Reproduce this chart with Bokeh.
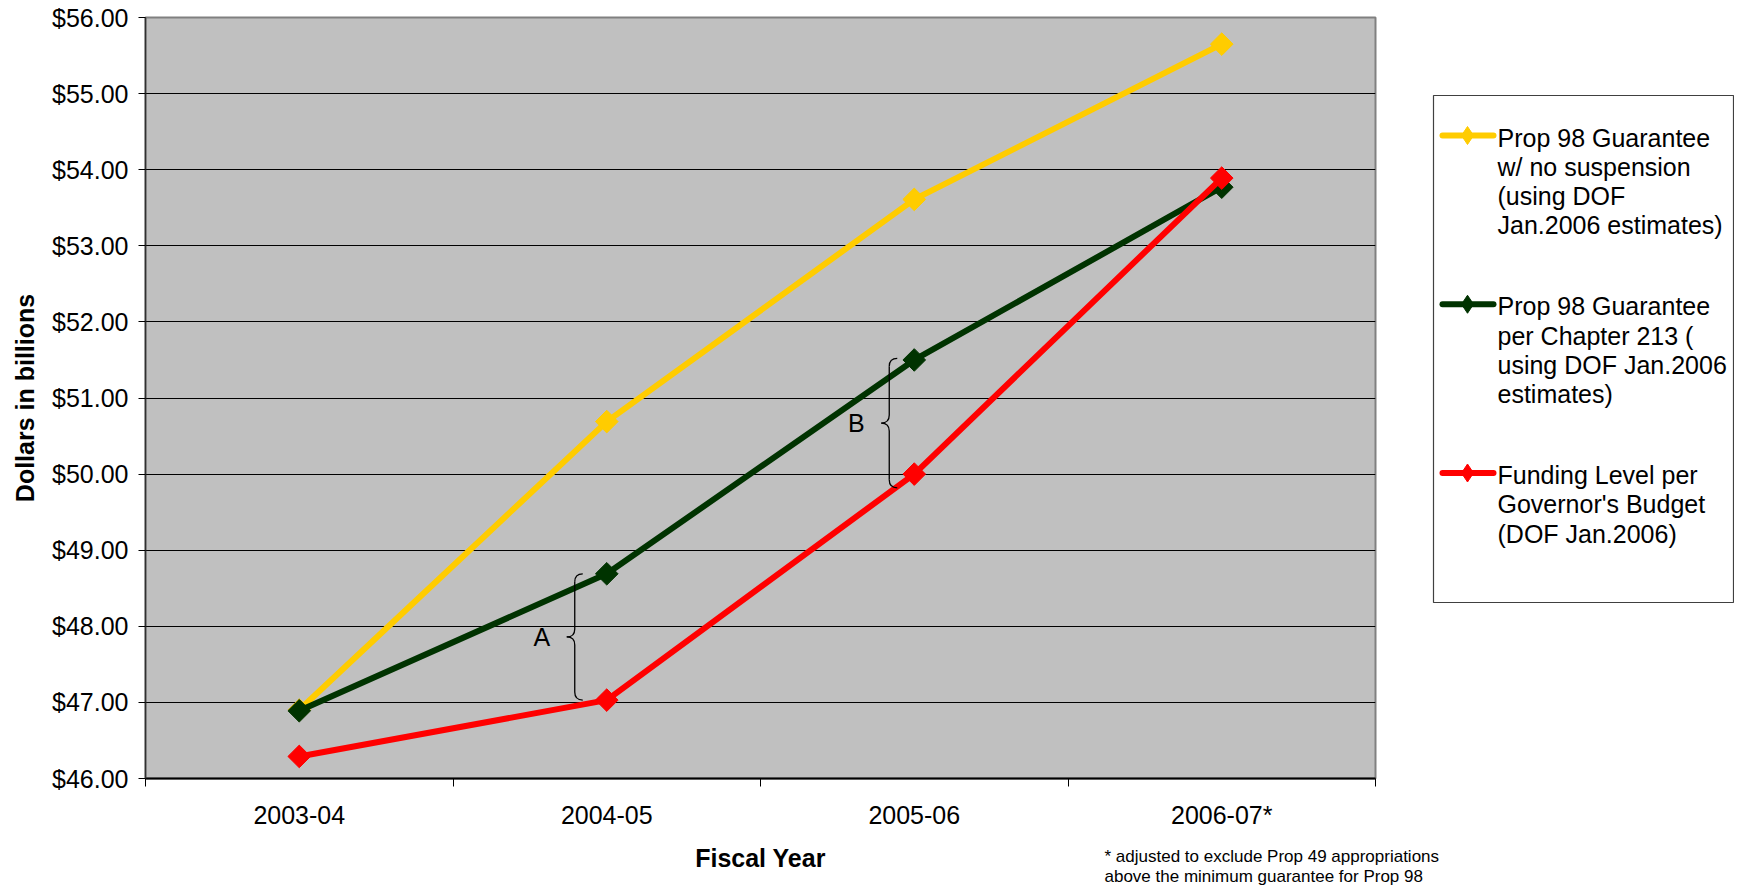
import math
from bokeh.plotting import figure
from bokeh.models import Range1d, FixedTicker, NumeralTickFormatter
from bokeh.layouts import row, column
from bokeh.embed import file_html
from bokeh.resources import INLINE
from bokeh.core.properties import value

# ---------------- data ----------------
categories = ["2003-04", "2004-05", "2005-06", "2006-07*"]
no_suspension = [46.90, 50.69, 53.61, 55.65]
chapter_213 = [46.89, 48.69, 51.50, 53.77]
governor_budget = [46.29, 47.03, 50.00, 53.89]
series_values = [no_suspension, chapter_213, governor_budget]
series_labels = [
    "Prop 98 Guarantee\nw/ no suspension\n(using DOF\nJan.2006 estimates)",
    "Prop 98 Guarantee\nper Chapter 213 (\nusing DOF Jan.2006\nestimates)",
    "Funding Level per\nGovernor's Budget\n(DOF Jan.2006)",
]
series_colors = ["#FFCC00", "#003300", "#FF0000"]
y_ticks = [46, 47, 48, 49, 50, 51, 52, 53, 54, 55, 56]
bracket_labels = ["A", "B"]
bracket_category = [1, 2]
bracket_top = [48.69, 51.52]
bracket_bottom = [47.03, 49.82]
x_title = "Fiscal Year"
y_title = "Dollars in billions"
footnote_lines = ["* adjusted to exclude Prop 49 appropriations",
                  "above the minimum guarantee for Prop 98"]

FONT = "Liberation Sans"

# page geometry (pixels)
FRAME_L, FRAME_T, FRAME_R, FRAME_B = 145, 17, 1375, 778
W1 = 1420
H1 = 836
W2 = 314
H3 = 49

# ---------------- main chart ----------------
p = figure(width=W1, height=H1, x_range=Range1d(0, len(categories)),
           y_range=Range1d(min(y_ticks), max(y_ticks)), title=None,
           output_backend="svg", toolbar_location=None,
           min_border_left=FRAME_L, min_border_right=W1 - FRAME_R,
           min_border_top=FRAME_T, min_border_bottom=H1 - FRAME_B)
p.background_fill_color = "#C0C0C0"
p.border_fill_color = "white"
p.outline_line_color = "#808080"
p.outline_line_width = 2

p.xgrid.visible = False
p.ygrid.ticker = FixedTicker(ticks=y_ticks)
p.ygrid.grid_line_color = "black"
p.ygrid.grid_line_width = 1

centers = [i + 0.5 for i in range(len(categories))]

# y axis
p.yaxis.ticker = FixedTicker(ticks=y_ticks, minor_ticks=[])
p.yaxis.formatter = NumeralTickFormatter(format="$0.00")
p.yaxis.major_tick_out = 7
p.yaxis.major_tick_in = 0
p.yaxis.major_tick_line_color = "black"
p.yaxis.axis_line_color = "#303030"
p.yaxis.axis_line_width = 1.5
p.yaxis.major_label_standoff = 10
p.yaxis.major_label_text_font = FONT
p.yaxis.major_label_text_font_size = "25px"
p.yaxis.major_label_text_color = "black"
p.yaxis.axis_label = y_title
p.yaxis.axis_label_text_font = FONT
p.yaxis.axis_label_text_font_style = "bold"
p.yaxis.axis_label_text_font_size = "25px"
p.yaxis.axis_label_text_color = "black"
p.yaxis.axis_label_standoff = 10

# x axis: labels at centers, tick marks between categories
p.xaxis.ticker = FixedTicker(ticks=centers, minor_ticks=list(range(len(categories) + 1)))
p.xaxis.major_label_overrides = {c: lab for c, lab in zip(centers, categories)}
p.xaxis.major_tick_out = 0
p.xaxis.major_tick_in = 0
p.xaxis.major_tick_line_color = None
p.xaxis.minor_tick_out = 8
p.xaxis.minor_tick_in = 0
p.xaxis.minor_tick_line_color = "black"
p.xaxis.axis_line_color = "black"
p.xaxis.axis_line_width = 2
p.xaxis.major_label_standoff = 14
p.xaxis.major_label_text_font = FONT
p.xaxis.major_label_text_font_size = "25px"
p.xaxis.major_label_text_color = "black"

# series
for vals, col in zip(series_values, series_colors):
    p.line(x=centers, y=vals, line_color=col, line_width=6, line_join="round")
    p.scatter(x=centers, y=vals, marker="square", angle=math.pi / 4, size=16,
              fill_color=col, line_color=col)

# curly brackets
px_x = (FRAME_R - FRAME_L) / len(categories)
px_y = (FRAME_B - FRAME_T) / (max(y_ticks) - min(y_ticks))
shift_px = [32, 25]
hook = 8 / px_x
rad = 8 / px_y
for lab, ci, top, bot, sh in zip(bracket_labels, bracket_category, bracket_top, bracket_bottom, shift_px):
    x0 = centers[ci] - sh / px_x
    mid = (top + bot) / 2
    p.quadratic(x0=[x0 + hook, x0, x0 - hook, x0], y0=[top, mid + rad, mid, bot + rad],
                x1=[x0, x0 - hook, x0, x0 + hook], y1=[top - rad, mid, mid - rad, bot],
                cx=[x0, x0, x0, x0], cy=[top, mid, mid, bot],
                line_color="black", line_width=1.3)
    p.segment(x0=[x0, x0], y0=[top - rad, mid - rad], x1=[x0, x0], y1=[mid + rad, bot + rad],
              line_color="black", line_width=1.3)
    p.text(x=[x0], y=[mid], text=[lab], x_offset=-33, text_align="center",
           text_baseline="middle", text_font=value(FONT), text_font_size="25px",
           text_color="black")

# ---------------- legend panel (coordinates = page pixels) ----------------
q = figure(width=W2, height=H1, x_range=Range1d(W1, W1 + W2),
           y_range=Range1d(FRAME_B, FRAME_T), title=None,
           output_backend="svg", toolbar_location=None,
           min_border_left=0, min_border_right=0,
           min_border_top=FRAME_T, min_border_bottom=H1 - FRAME_B,
           x_axis_location=None, y_axis_location=None)
q.grid.visible = False
q.outline_line_color = None
q.background_fill_color = "white"
q.border_fill_color = "white"
q.quad(left=[1433], right=[1733], top=[95], bottom=[602], fill_color="white",
       line_color="#404040", line_width=1.2)
tx, ty, tt = [], [], []
for i, (lab, col) in enumerate(zip(series_labels, series_colors)):
    y0 = 137 + 168.75 * i
    q.line(x=[1442, 1493], y=[y0 - 2, y0 - 2], line_color=col, line_width=6, line_cap="round")
    q.scatter(x=[1467], y=[y0 - 2], marker="diamond", size=18, fill_color=col, line_color=col)
    for j, part in enumerate(lab.split("\n")):
        tx.append(1497)
        ty.append(y0 + 29.3 * j)
        tt.append(part)
q.text(x=tx, y=ty, text=tt, text_baseline="middle", text_align="left",
       text_font=value(FONT), text_font_size="25px", text_color="black")

# ---------------- footer: axis title + footnote (coordinates = page pixels) ----------------
f = figure(width=W1 + W2, height=H3, x_range=Range1d(0, W1 + W2),
           y_range=Range1d(H1 + H3, H1), title=None,
           output_backend="svg", toolbar_location=None, min_border=0,
           x_axis_location=None, y_axis_location=None)
f.grid.visible = False
f.outline_line_color = None
f.background_fill_color = "white"
f.border_fill_color = "white"
f.text(x=[(FRAME_L + FRAME_R) / 2], y=[857], text=[x_title], text_align="center",
       text_baseline="middle", text_font=value(FONT), text_font_style="bold",
       text_font_size="25px", text_color="black")
f.text(x=[1104] * len(footnote_lines), y=[856 + 19.5 * i for i in range(len(footnote_lines))],
       text=footnote_lines, text_align="left", text_baseline="middle",
       text_font=value(FONT), text_font_size="17px", text_color="black")

layout = column(row(p, q), f)
open("out.html", "w").write(file_html(layout, INLINE))
